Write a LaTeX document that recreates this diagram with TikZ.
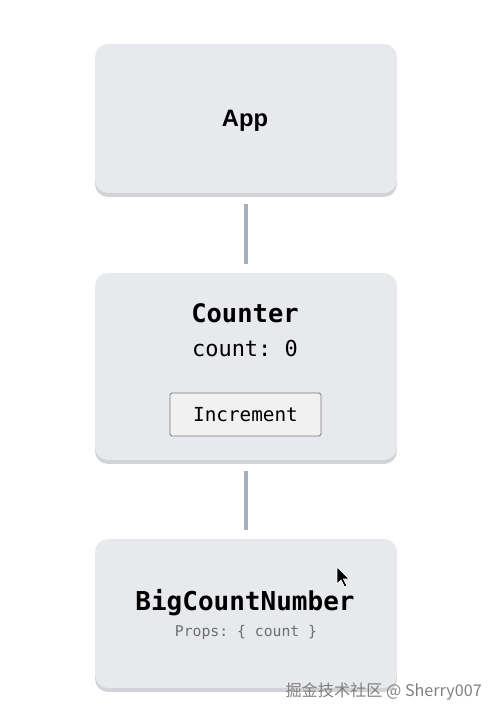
\documentclass[tikz,border=0pt]{standalone}
\usepackage{fontspec}
\setmainfont{Liberation Sans}
\setmonofont{DejaVu Sans Mono}
\newfontfamily\cjk{Noto Sans CJK SC}
\usetikzlibrary{positioning,shadows}
\definecolor{boxfill}{HTML}{E8E9EC}
\definecolor{boxshade}{HTML}{D2D3D7}
\definecolor{wire}{HTML}{A3B0C2}
\definecolor{btnfill}{HTML}{F1F1F2}
\definecolor{btnline}{HTML}{7A7A7A}
\definecolor{propgray}{HTML}{6E6E72}
\begin{document}
\begin{tikzpicture}[x=0.02cm, y=-0.02cm,
  comp/.style = {rectangle, rounded corners=0.26cm, fill=boxfill, minimum width=6.04cm,
                 general shadow={fill=boxshade, shadow yshift=-0.08cm}},
  title/.style = {font=\ttfamily\bfseries\fontsize{14.5}{16}\selectfont},
  state/.style = {font=\ttfamily\fontsize{12.5}{14}\selectfont},
  btn/.style = {draw=btnline, line width=0.5pt, fill=btnfill, rounded corners=1pt,
                minimum width=3.02cm, minimum height=0.86cm, font=\ttfamily\fontsize{11}{13}\selectfont},
  link/.style = {draw=wire, line width=2.3pt, shorten <=0.22cm, shorten >=0.18cm}]
\useasboundingbox (0,0) rectangle (503,720);
\node[comp, minimum height=2.98cm] (app) at (246,118.5) {};
\node[font=\bfseries\fontsize{13.5}{16}\selectfont] (apptext) at (245,121) {App};
\node[comp, minimum height=3.74cm] (counter) at (246,366.5) {};
\node[title] (countertext) at (245,313) {Counter};
\node[state] (countval) at (245,349) {count: 0};
\node[btn] (inc) at (245.5,414.5) {Increment};
\node[comp, minimum height=2.98cm] (big) at (246,613.5) {};
\node[title, font=\ttfamily\bfseries\fontsize{14.8}{16}\selectfont] (bigtext) at (245,603) {BigCountNumber};
\node[text=propgray, font=\ttfamily\fontsize{8.4}{10}\selectfont] (props) at (246,632) {Props: \{ count \}};
\draw[link] (app.south) -- (counter.north);
\draw[link] (counter.south) -- (big.north);
% mouse pointer
\filldraw[fill=black, draw=white, line width=0.4pt] (337,567) -- (337,584) -- (341,580) -- (344.5,587) -- (347,586) -- (343.5,579) -- (349,579) -- cycle;
% watermark
\node[anchor=east, text=gray, font=\cjk\fontsize{9.2}{11}\selectfont] (mark) at (488,692) {掘金技术社区 @ Sherry007};
\end{tikzpicture}
\end{document}
